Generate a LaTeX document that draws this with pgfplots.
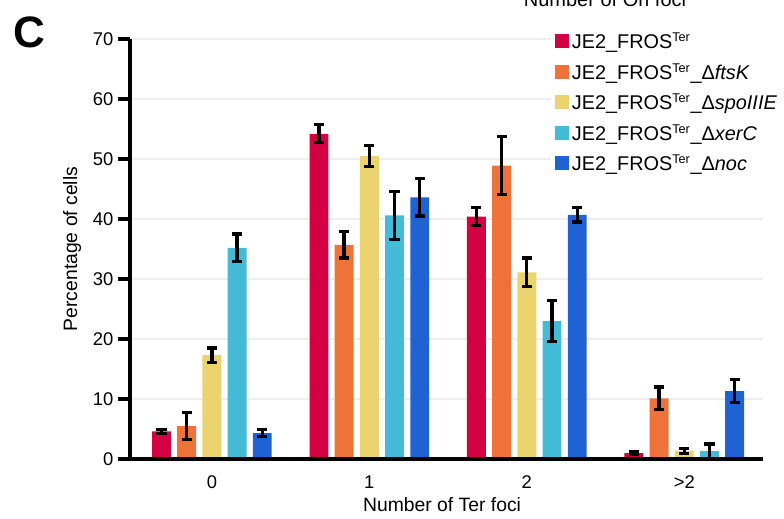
\documentclass[border=0pt]{standalone}
\usepackage{pgfplots}
\usepackage{pgfplotstable}
\pgfplotsset{compat=1.18}
\usepackage{fontspec}
\setmainfont{Liberation Sans}
\definecolor{cRed}{HTML}{D30044}
\definecolor{cOrange}{HTML}{EE7339}
\definecolor{cYellow}{HTML}{EBD46E}
\definecolor{cCyan}{HTML}{44BCD8}
\definecolor{cBlue}{HTML}{1F62D4}
\definecolor{cGrid}{HTML}{EEEEEE}
\newcommand{\Ter}{\textsuperscript{\fontsize{9.5}{10}\selectfont Ter}}

\pgfplotstableread{
g v e
0 4.6 0.3
1 54.2 1.5
2 40.4 1.5
3 1.0 0.2
}\tRed
\pgfplotstableread{
g v e
0 5.5 2.2
1 35.7 2.2
2 48.9 4.8
3 10.1 1.9
}\tOrange
\pgfplotstableread{
g v e
0 17.3 1.2
1 50.5 1.7
2 31.1 2.4
3 1.3 0.4
}\tYellow
\pgfplotstableread{
g v e
0 35.2 2.3
1 40.6 4.0
2 23.0 3.4
3 1.3 1.2
}\tCyan
\pgfplotstableread{
g v e
0 4.3 0.6
1 43.6 3.1
2 40.7 1.2
3 11.3 1.9
}\tBlue

\pgfplotsset{mybar/.style={
    ybar, bar width=0.12, bar shift=0pt, draw=none, fill=#1,
    error bars/y dir=both, error bars/y explicit,
    error bars/error bar style={line width=2.5pt, black},
    error bars/error mark options={rotate=90, mark size=3.8pt, line width=2.5pt, black}}}

\begin{document}
\begin{tikzpicture}
\begin{axis}[
  scale only axis, width=474.75pt, height=315pt,
  xmin=-0.52, xmax=3.5, ymin=0, ymax=70,
  axis x line*=bottom, axis y line*=left,
  x axis line style={line width=3pt, black},
  y axis line style={line width=2.3pt, black},
  xtick={0,1,2,3}, xticklabels={0,1,2,{>2}},
  major x tick style={draw=none},
  ytick={0,10,...,70},
  tick align=outside,
  major tick length=9pt,
  major y tick style={line width=2.3pt, black},
  ymajorgrids, grid style={cGrid, line width=2.2pt},
  tick label style={font=\fontsize{13.8}{16}\selectfont},
  /pgf/number format/assume math mode=true,
  xlabel={Number of Ter foci}, ylabel={Percentage of cells},
  label style={font=\fontsize{14.5}{16}\selectfont},
  xlabel style={at={(axis description cs:0.493,-0.1095)}, anchor=center},
  ylabel style={at={(axis description cs:-0.0916,0.5)}, anchor=center},
  legend style={at={(0.665,1.027)}, anchor=north west, draw=none, fill=white,
    font=\fontsize{14.9}{17}\selectfont, row sep=5.6pt,
    cells={anchor=west}},
  legend image code/.code={\fill[#1] (0pt,-4.6pt) rectangle (10.5pt,5.9pt);},
]
\addplot[mybar=cRed] table[x expr=\thisrow{g}-0.32, y=v, y error=e] \tRed;
\addlegendentry{JE2\_FROS\Ter}
\addplot[mybar=cOrange] table[x expr=\thisrow{g}-0.16, y=v, y error=e] \tOrange;
\addlegendentry{JE2\_FROS\Ter\_Δ\textit{ftsK}}
\addplot[mybar=cYellow] table[x expr=\thisrow{g}, y=v, y error=e] \tYellow;
\addlegendentry{JE2\_FROS\Ter\_Δ\textit{spoIIIE}}
\addplot[mybar=cCyan] table[x expr=\thisrow{g}+0.16, y=v, y error=e] \tCyan;
\addlegendentry{JE2\_FROS\Ter\_Δ\textit{xerC}}
\addplot[mybar=cBlue] table[x expr=\thisrow{g}+0.32, y=v, y error=e] \tBlue;
\addlegendentry{JE2\_FROS\Ter\_Δ\textit{noc}}
\draw[line width=3pt, black] (axis cs:-0.52,0) -- (axis cs:3.5,0);
\end{axis}
\node[font=\fontsize{33}{35}\selectfont\bfseries] at (-75.75pt,320pt) {C};
\node[anchor=base, font=\fontsize{15}{17}\selectfont] at (356.25pt,339.5pt) {Number of Ori foci};
\pgfresetboundingbox
\path[use as bounding box] (-97.5pt,-44.25pt) rectangle (490.5pt,344.25pt);
\end{tikzpicture}
\end{document}
